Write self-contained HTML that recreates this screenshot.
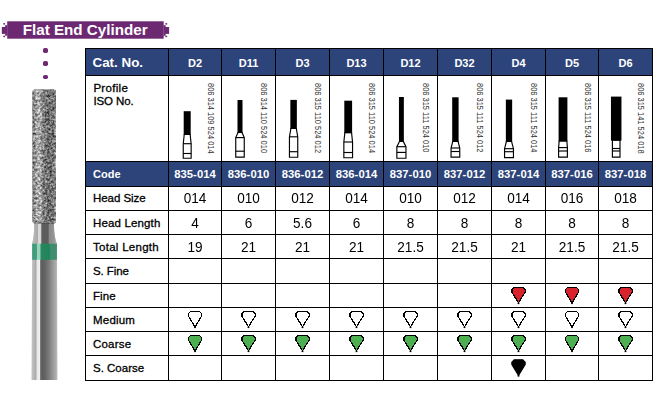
<!DOCTYPE html>
<html><head><meta charset="utf-8"><style>
*{margin:0;padding:0;box-sizing:border-box}
html,body{width:655px;height:401px;background:#fff;overflow:hidden}
body{position:relative;font-family:"Liberation Sans",sans-serif}
.a{position:absolute}
.hl{position:absolute;height:1px;background:#000}
.vl{position:absolute;width:1px;background:#000}
.t{position:absolute;white-space:nowrap;line-height:1}
.lb{font-weight:bold;font-size:11px;color:#000}
.md{font-size:11.5px;color:#000;-webkit-text-stroke:0.3px #000}
.hd{font-weight:bold;font-size:11px;color:#fff;text-align:center}
.cd{font-weight:bold;font-size:11.3px;color:#fff;text-align:center}
.vv{font-size:14.3px;color:#000;text-align:center;transform:scaleX(0.95)}
.iso{position:absolute;white-space:nowrap;font-size:8.3px;line-height:1;color:#333;transform-origin:0 0}
</style></head><body>

<svg class="a" style="left:0;top:0" width="180" height="45" viewBox="0 0 180 45">
<rect x="7.2" y="21.3" width="156.5" height="17.4" fill="#6d2872"/>
<rect x="1.8" y="27" width="5.6" height="6.9" fill="#6d2872"/>
<rect x="5.1" y="25.2" width="2.2" height="1.9" fill="#6d2872"/>
<rect x="5.1" y="33.8" width="2.2" height="1.9" fill="#6d2872"/>
<rect x="3.3" y="23.1" width="1.8" height="1.5" fill="#6d2872"/>
<rect x="3.3" y="35.7" width="1.8" height="1.5" fill="#6d2872"/>
<rect x="163.5" y="27" width="5.6" height="6.9" fill="#6d2872"/>
<rect x="163.5" y="25.2" width="2.2" height="1.9" fill="#6d2872"/>
<rect x="163.5" y="33.8" width="2.2" height="1.9" fill="#6d2872"/>
<rect x="165.4" y="23.1" width="1.8" height="1.5" fill="#6d2872"/>
<rect x="165.4" y="35.7" width="1.8" height="1.5" fill="#6d2872"/>
</svg>
<div class="t" style="left:22.7px;top:22.1px;font-size:15.2px;font-weight:bold;color:#fff">Flat End Cylinder</div>
<div class="a" style="left:43.2px;top:48.1px;width:4.8px;height:4.6px;border-radius:38%;background:#6d2872"></div>
<div class="a" style="left:43.2px;top:61.1px;width:4.8px;height:4.6px;border-radius:38%;background:#6d2872"></div>
<div class="a" style="left:43.2px;top:74.7px;width:4.8px;height:4.6px;border-radius:38%;background:#6d2872"></div>
<svg class="a" style="left:0;top:0" width="90" height="401" viewBox="0 0 90 401">
<defs>
<filter id="nz" x="0" y="0" width="100%" height="100%" color-interpolation-filters="sRGB">
<feTurbulence type="fractalNoise" baseFrequency="0.42" numOctaves="2" seed="11" result="n"/>
<feColorMatrix in="n" type="matrix" values="1 0 0 0 0  1 0 0 0 0  1 0 0 0 0  0 0 0 0 1" result="g"/>
<feGaussianBlur in="g" stdDeviation="0.3" result="gb"/>
<feComposite in="SourceGraphic" in2="gb" operator="arithmetic" k1="0" k2="1" k3="1.0" k4="-0.5" result="c"/>
<feComposite in="c" in2="SourceGraphic" operator="in"/>
</filter>
<linearGradient id="hg" x1="32.5" x2="56" y1="0" y2="0" gradientUnits="userSpaceOnUse">
<stop offset="0" stop-color="#7e7e7e"/><stop offset="0.1" stop-color="#8c8c8c"/><stop offset="0.2" stop-color="#a8a8a8"/>
<stop offset="0.33" stop-color="#acacac"/><stop offset="0.45" stop-color="#7a7a7a"/><stop offset="0.75" stop-color="#6a6a6a"/>
<stop offset="0.92" stop-color="#7a7a7a"/><stop offset="1" stop-color="#929292"/>
</linearGradient>
<linearGradient id="sg" x1="31.5" x2="57.5" y1="0" y2="0" gradientUnits="userSpaceOnUse">
<stop offset="0.0000" stop-color="#c4c4c4"/><stop offset="0.0577" stop-color="#bcbcbc"/><stop offset="0.1423" stop-color="#b2b2b2"/><stop offset="0.1731" stop-color="#9c9c9c"/><stop offset="0.2038" stop-color="#e6e6e6"/><stop offset="0.3115" stop-color="#f0f0f0"/><stop offset="0.3500" stop-color="#6c6c6c"/><stop offset="0.4038" stop-color="#5c5c5c"/><stop offset="0.5192" stop-color="#646464"/><stop offset="0.6731" stop-color="#7c7c7c"/><stop offset="0.8269" stop-color="#9a9a9a"/><stop offset="0.9423" stop-color="#adadad"/><stop offset="1.0000" stop-color="#c6c6c6"/>
</linearGradient>
<linearGradient id="ng" x1="32" x2="57" y1="0" y2="0" gradientUnits="userSpaceOnUse">
<stop offset="0.0000" stop-color="#c0c0c0"/><stop offset="0.1000" stop-color="#b4b4b4"/><stop offset="0.2240" stop-color="#aaaaaa"/><stop offset="0.2560" stop-color="#dcdcdc"/><stop offset="0.3520" stop-color="#d4d4d4"/><stop offset="0.3920" stop-color="#5e5e5e"/><stop offset="0.6400" stop-color="#5c5c5c"/><stop offset="0.7000" stop-color="#8a8a8a"/><stop offset="0.8800" stop-color="#969696"/><stop offset="0.9600" stop-color="#b0b0b0"/><stop offset="1.0000" stop-color="#c8c8c8"/>
</linearGradient>
<linearGradient id="gg" x1="32.2" x2="57" y1="0" y2="0" gradientUnits="userSpaceOnUse">
<stop offset="0.0000" stop-color="#3c9a78"/><stop offset="0.1895" stop-color="#44a07e"/><stop offset="0.2137" stop-color="#9ed4bf"/><stop offset="0.3226" stop-color="#98d0ba"/><stop offset="0.3468" stop-color="#26885f"/><stop offset="0.6935" stop-color="#20855a"/><stop offset="0.7177" stop-color="#3e8c6e"/><stop offset="1.0000" stop-color="#438e72"/>
</linearGradient>
</defs>
<path d="M34.2 222 L54 222 Q53.6 236 57 244 L57.5 380 L31.5 380 L32.2 244 Q34.6 234 34.2 222 Z" fill="url(#sg)"/>
<path d="M34.2 222 L54 222 Q53.6 236 57 244 L32.2 244 Q34.6 234 34.2 222 Z" fill="url(#ng)"/>
<rect x="32.5" y="89.5" width="23.5" height="134" rx="2" fill="url(#hg)" filter="url(#nz)"/>
<rect x="32.2" y="243.7" width="24.7" height="16.1" fill="url(#gg)"/>
</svg>

<div class="a" style="left:85px;top:48px;width:568px;height:27px;background:#2c447a"></div>
<div class="a" style="left:85px;top:161px;width:568px;height:25px;background:#2c447a"></div>
<div class="hl" style="left:85px;top:48px;width:568px"></div>
<div class="hl" style="left:85px;top:75px;width:568px"></div>
<div class="hl" style="left:85px;top:161px;width:568px"></div>
<div class="hl" style="left:85px;top:186px;width:568px"></div>
<div class="hl" style="left:85px;top:210px;width:568px"></div>
<div class="hl" style="left:85px;top:234px;width:568px"></div>
<div class="hl" style="left:85px;top:258px;width:568px"></div>
<div class="hl" style="left:85px;top:283px;width:568px"></div>
<div class="hl" style="left:85px;top:307px;width:568px"></div>
<div class="hl" style="left:85px;top:331px;width:568px"></div>
<div class="hl" style="left:85px;top:355px;width:568px"></div>
<div class="hl" style="left:85px;top:380px;width:568px"></div>
<div class="vl" style="left:85px;top:48px;height:333px"></div>
<div class="vl" style="left:168px;top:48px;height:333px"></div>
<div class="vl" style="left:221px;top:48px;height:333px"></div>
<div class="vl" style="left:275px;top:48px;height:333px"></div>
<div class="vl" style="left:329px;top:48px;height:333px"></div>
<div class="vl" style="left:383px;top:48px;height:333px"></div>
<div class="vl" style="left:437px;top:48px;height:333px"></div>
<div class="vl" style="left:491px;top:48px;height:333px"></div>
<div class="vl" style="left:545px;top:48px;height:333px"></div>
<div class="vl" style="left:598px;top:48px;height:333px"></div>
<div class="vl" style="left:652px;top:48px;height:333px"></div>
<div class="t" style="left:92.5px;top:55.6px;font-size:13.4px;font-weight:bold;color:#fff">Cat. No.</div>
<div class="t hd" style="left:169px;top:57.6px;width:52px">D2</div>
<div class="t hd" style="left:222px;top:57.6px;width:53px">D11</div>
<div class="t hd" style="left:276px;top:57.6px;width:53px">D3</div>
<div class="t hd" style="left:330px;top:57.6px;width:53px">D13</div>
<div class="t hd" style="left:384px;top:57.6px;width:53px">D12</div>
<div class="t hd" style="left:438px;top:57.6px;width:53px">D32</div>
<div class="t hd" style="left:492px;top:57.6px;width:53px">D4</div>
<div class="t hd" style="left:546px;top:57.6px;width:52px">D5</div>
<div class="t hd" style="left:599px;top:57.6px;width:53px">D6</div>
<div class="t md" style="left:93.4px;top:83.2px;letter-spacing:0.3px">Profile</div>
<div class="t md" style="left:93.4px;top:96.4px;letter-spacing:-0.1px">ISO No.</div>
<div class="t lb" style="left:93px;top:168.6px;color:#fff">Code</div>
<div class="t cd" style="left:169px;top:168.8px;width:52px">835-014</div>
<div class="t cd" style="left:222px;top:168.8px;width:53px">836-010</div>
<div class="t cd" style="left:276px;top:168.8px;width:53px">836-012</div>
<div class="t cd" style="left:330px;top:168.8px;width:53px">836-014</div>
<div class="t cd" style="left:384px;top:168.8px;width:53px">837-010</div>
<div class="t cd" style="left:438px;top:168.8px;width:53px">837-012</div>
<div class="t cd" style="left:492px;top:168.8px;width:53px">837-014</div>
<div class="t cd" style="left:546px;top:168.8px;width:52px">837-016</div>
<div class="t cd" style="left:599px;top:168.8px;width:53px">837-018</div>
<div class="t md" style="left:93px;top:192.6px;letter-spacing:-0.06px">Head Size</div>
<div class="t md" style="left:93px;top:217.6px;letter-spacing:0.15px">Head Length</div>
<div class="t md" style="left:93px;top:241.6px;letter-spacing:0.28px">Total Length</div>
<div class="t md" style="left:93px;top:265.6px;letter-spacing:-0.08px">S. Fine</div>
<div class="t md" style="left:93px;top:290.6px;letter-spacing:0.1px">Fine</div>
<div class="t md" style="left:93px;top:314.6px;letter-spacing:0.2px">Medium</div>
<div class="t md" style="left:93px;top:338.6px;letter-spacing:0.2px">Coarse</div>
<div class="t md" style="left:93px;top:362.6px;letter-spacing:0.0px">S. Coarse</div>
<div class="t vv" style="left:169px;top:190.6px;width:52px">014</div>
<div class="t vv" style="left:222px;top:190.6px;width:53px">010</div>
<div class="t vv" style="left:276px;top:190.6px;width:53px">012</div>
<div class="t vv" style="left:330px;top:190.6px;width:53px">014</div>
<div class="t vv" style="left:384px;top:190.6px;width:53px">010</div>
<div class="t vv" style="left:438px;top:190.6px;width:53px">012</div>
<div class="t vv" style="left:492px;top:190.6px;width:53px">014</div>
<div class="t vv" style="left:546px;top:190.6px;width:52px">016</div>
<div class="t vv" style="left:599px;top:190.6px;width:53px">018</div>
<div class="t vv" style="left:169px;top:215.6px;width:52px">4</div>
<div class="t vv" style="left:222px;top:215.6px;width:53px">6</div>
<div class="t vv" style="left:276px;top:215.6px;width:53px">5.6</div>
<div class="t vv" style="left:330px;top:215.6px;width:53px">6</div>
<div class="t vv" style="left:384px;top:215.6px;width:53px">8</div>
<div class="t vv" style="left:438px;top:215.6px;width:53px">8</div>
<div class="t vv" style="left:492px;top:215.6px;width:53px">8</div>
<div class="t vv" style="left:546px;top:215.6px;width:52px">8</div>
<div class="t vv" style="left:599px;top:215.6px;width:53px">8</div>
<div class="t vv" style="left:169px;top:239.6px;width:52px">19</div>
<div class="t vv" style="left:222px;top:239.6px;width:53px">21</div>
<div class="t vv" style="left:276px;top:239.6px;width:53px">21</div>
<div class="t vv" style="left:330px;top:239.6px;width:53px">21</div>
<div class="t vv" style="left:384px;top:239.6px;width:53px">21.5</div>
<div class="t vv" style="left:438px;top:239.6px;width:53px">21.5</div>
<div class="t vv" style="left:492px;top:239.6px;width:53px">21</div>
<div class="t vv" style="left:546px;top:239.6px;width:52px">21.5</div>
<div class="t vv" style="left:599px;top:239.6px;width:53px">21.5</div>
<div class="iso" style="left:214.5px;top:83px;transform:rotate(90deg) scaleX(0.9)">806 314 109 524 014</div>
<div class="iso" style="left:267.5px;top:83px;transform:rotate(90deg) scaleX(0.9)">806 314 110 524 010</div>
<div class="iso" style="left:321.5px;top:83px;transform:rotate(90deg) scaleX(0.9)">806 315 110 524 012</div>
<div class="iso" style="left:375.5px;top:83px;transform:rotate(90deg) scaleX(0.9)">806 315 110 524 014</div>
<div class="iso" style="left:429.5px;top:83px;transform:rotate(90deg) scaleX(0.9)">806 315 111 524 010</div>
<div class="iso" style="left:483.5px;top:83px;transform:rotate(90deg) scaleX(0.9)">806 315 111 524 012</div>
<div class="iso" style="left:537.5px;top:83px;transform:rotate(90deg) scaleX(0.9)">806 315 111 524 014</div>
<div class="iso" style="left:591.5px;top:83px;transform:rotate(90deg) scaleX(0.9)">806 315 111 524 016</div>
<div class="iso" style="left:645.3px;top:83px;transform:rotate(90deg) scaleX(0.9)">806 315 141 524 018</div>
<svg class="a" style="left:0;top:0" width="655" height="401" viewBox="0 0 655 401">
<path d="M184.25 134.50 L183.25 143.70 L183.25 158.25 L191.15 158.25 L191.15 143.70 L190.15 134.50 Z" stroke="#000" stroke-width="1.15" fill="#fff" stroke-linejoin="miter"/><line x1="183.25" x2="191.15" y1="143.70" y2="143.70" stroke="#000" stroke-width="1.15"/><line x1="183.25" x2="191.15" y1="153.50" y2="153.50" stroke="#000" stroke-width="1.15"/><rect x="183.70" y="111.20" width="7.00" height="23.80" fill="#000"/>
<path d="M238.05 132.40 L235.75 137.60 L235.75 157.15 L244.25 157.15 L244.25 137.60 L241.95 132.40 Z" stroke="#000" stroke-width="1.15" fill="#fff" stroke-linejoin="miter"/><line x1="235.75" x2="244.25" y1="137.60" y2="137.60" stroke="#000" stroke-width="1.15"/><line x1="235.75" x2="244.25" y1="151.20" y2="151.20" stroke="#000" stroke-width="1.15"/><rect x="237.50" y="100.00" width="5.00" height="32.90" fill="#000"/>
<path d="M290.90 128.50 L289.45 136.80 L289.45 157.25 L297.75 157.25 L297.75 136.80 L296.30 128.50 Z" stroke="#000" stroke-width="1.15" fill="#fff" stroke-linejoin="miter"/><line x1="289.45" x2="297.75" y1="136.80" y2="136.80" stroke="#000" stroke-width="1.15"/><line x1="289.45" x2="297.75" y1="151.70" y2="151.70" stroke="#000" stroke-width="1.15"/><rect x="290.35" y="99.90" width="6.50" height="29.10" fill="#000"/>
<path d="M344.85 132.60 L343.85 142.00 L343.85 157.75 L352.55 157.75 L352.55 142.00 L351.55 132.60 Z" stroke="#000" stroke-width="1.15" fill="#fff" stroke-linejoin="miter"/><line x1="343.85" x2="352.55" y1="142.00" y2="142.00" stroke="#000" stroke-width="1.15"/><line x1="343.85" x2="352.55" y1="152.50" y2="152.50" stroke="#000" stroke-width="1.15"/><rect x="344.30" y="100.70" width="7.80" height="32.40" fill="#000"/>
<path d="M399.50 141.40 L396.85 146.70 L396.85 158.25 L405.95 158.25 L405.95 146.70 L403.30 141.40 Z" stroke="#000" stroke-width="1.15" fill="#fff" stroke-linejoin="miter"/><line x1="396.85" x2="405.95" y1="146.70" y2="146.70" stroke="#000" stroke-width="1.15"/><line x1="396.85" x2="405.95" y1="152.40" y2="152.40" stroke="#000" stroke-width="1.15"/><rect x="398.95" y="97.00" width="4.90" height="44.90" fill="#000"/>
<path d="M452.75 141.40 L451.05 148.00 L451.05 157.05 L459.75 157.05 L459.75 148.00 L458.05 141.40 Z" stroke="#000" stroke-width="1.15" fill="#fff" stroke-linejoin="miter"/><line x1="451.05" x2="459.75" y1="148.00" y2="148.00" stroke="#000" stroke-width="1.15"/><line x1="451.05" x2="459.75" y1="151.50" y2="151.50" stroke="#000" stroke-width="1.15"/><rect x="452.20" y="97.30" width="6.40" height="44.60" fill="#000"/>
<path d="M506.40 141.50 L504.55 148.70 L504.55 157.55 L513.45 157.55 L513.45 148.70 L511.60 141.50 Z" stroke="#000" stroke-width="1.15" fill="#fff" stroke-linejoin="miter"/><line x1="504.55" x2="513.45" y1="148.70" y2="148.70" stroke="#000" stroke-width="1.15"/><line x1="504.55" x2="513.45" y1="151.70" y2="151.70" stroke="#000" stroke-width="1.15"/><rect x="505.85" y="99.60" width="6.30" height="42.40" fill="#000"/>
<path d="M559.15 141.00 L558.60 147.60 L558.60 157.05 L567.40 157.05 L567.40 147.60 L566.85 141.00 Z" stroke="#000" stroke-width="1.15" fill="#fff" stroke-linejoin="miter"/><line x1="558.60" x2="567.40" y1="147.60" y2="147.60" stroke="#000" stroke-width="1.15"/><line x1="558.60" x2="567.40" y1="151.00" y2="151.00" stroke="#000" stroke-width="1.15"/><rect x="558.60" y="97.30" width="8.80" height="44.20" fill="#000"/>
<path d="M612.40 140.10 L612.40 157.05 L620.00 157.05 L620.00 140.10 Z" stroke="#000" stroke-width="1.15" fill="#fff" stroke-linejoin="miter"/><line x1="612.40" x2="620.00" y1="148.50" y2="148.50" stroke="#000" stroke-width="1.15"/><line x1="612.40" x2="620.00" y1="151.00" y2="151.00" stroke="#000" stroke-width="1.15"/><rect x="610.95" y="96.60" width="10.50" height="44.00" fill="#000"/>
</svg>
<svg class="a" style="left:0;top:0" width="655" height="401" viewBox="0 0 655 401">
<polygon points="514.20,287.30 522.80,287.30 525.10,289.70 525.10,292.10 518.50,302.90 511.90,292.10 511.90,289.70" fill="#d8232d" stroke="#000" stroke-width="1.2" stroke-linejoin="miter" shape-rendering="crispEdges"/>
<rect x="517.60" y="302.50" width="1.8" height="1.6" fill="#000"/>
<polygon points="567.70,287.30 576.30,287.30 578.60,289.70 578.60,292.10 572.00,302.90 565.40,292.10 565.40,289.70" fill="#d8232d" stroke="#000" stroke-width="1.2" stroke-linejoin="miter" shape-rendering="crispEdges"/>
<rect x="571.10" y="302.50" width="1.8" height="1.6" fill="#000"/>
<polygon points="621.20,287.30 629.80,287.30 632.10,289.70 632.10,292.10 625.50,302.90 618.90,292.10 618.90,289.70" fill="#d8232d" stroke="#000" stroke-width="1.2" stroke-linejoin="miter" shape-rendering="crispEdges"/>
<rect x="624.60" y="302.50" width="1.8" height="1.6" fill="#000"/>
<polygon points="190.70,311.30 199.30,311.30 201.60,313.70 201.60,316.10 195.00,326.90 188.40,316.10 188.40,313.70" fill="#fff" stroke="#000" stroke-width="1.2" stroke-linejoin="miter" shape-rendering="crispEdges"/>
<rect x="194.10" y="326.50" width="1.8" height="1.6" fill="#000"/>
<polygon points="244.20,311.30 252.80,311.30 255.10,313.70 255.10,316.10 248.50,326.90 241.90,316.10 241.90,313.70" fill="#fff" stroke="#000" stroke-width="1.2" stroke-linejoin="miter" shape-rendering="crispEdges"/>
<rect x="247.60" y="326.50" width="1.8" height="1.6" fill="#000"/>
<polygon points="298.20,311.30 306.80,311.30 309.10,313.70 309.10,316.10 302.50,326.90 295.90,316.10 295.90,313.70" fill="#fff" stroke="#000" stroke-width="1.2" stroke-linejoin="miter" shape-rendering="crispEdges"/>
<rect x="301.60" y="326.50" width="1.8" height="1.6" fill="#000"/>
<polygon points="352.20,311.30 360.80,311.30 363.10,313.70 363.10,316.10 356.50,326.90 349.90,316.10 349.90,313.70" fill="#fff" stroke="#000" stroke-width="1.2" stroke-linejoin="miter" shape-rendering="crispEdges"/>
<rect x="355.60" y="326.50" width="1.8" height="1.6" fill="#000"/>
<polygon points="406.20,311.30 414.80,311.30 417.10,313.70 417.10,316.10 410.50,326.90 403.90,316.10 403.90,313.70" fill="#fff" stroke="#000" stroke-width="1.2" stroke-linejoin="miter" shape-rendering="crispEdges"/>
<rect x="409.60" y="326.50" width="1.8" height="1.6" fill="#000"/>
<polygon points="460.20,311.30 468.80,311.30 471.10,313.70 471.10,316.10 464.50,326.90 457.90,316.10 457.90,313.70" fill="#fff" stroke="#000" stroke-width="1.2" stroke-linejoin="miter" shape-rendering="crispEdges"/>
<rect x="463.60" y="326.50" width="1.8" height="1.6" fill="#000"/>
<polygon points="514.20,311.30 522.80,311.30 525.10,313.70 525.10,316.10 518.50,326.90 511.90,316.10 511.90,313.70" fill="#fff" stroke="#000" stroke-width="1.2" stroke-linejoin="miter" shape-rendering="crispEdges"/>
<rect x="517.60" y="326.50" width="1.8" height="1.6" fill="#000"/>
<polygon points="567.70,311.30 576.30,311.30 578.60,313.70 578.60,316.10 572.00,326.90 565.40,316.10 565.40,313.70" fill="#fff" stroke="#000" stroke-width="1.2" stroke-linejoin="miter" shape-rendering="crispEdges"/>
<rect x="571.10" y="326.50" width="1.8" height="1.6" fill="#000"/>
<polygon points="621.20,311.30 629.80,311.30 632.10,313.70 632.10,316.10 625.50,326.90 618.90,316.10 618.90,313.70" fill="#fff" stroke="#000" stroke-width="1.2" stroke-linejoin="miter" shape-rendering="crispEdges"/>
<rect x="624.60" y="326.50" width="1.8" height="1.6" fill="#000"/>
<polygon points="190.70,335.30 199.30,335.30 201.60,337.70 201.60,340.10 195.00,350.90 188.40,340.10 188.40,337.70" fill="#4caf50" stroke="#000" stroke-width="1.2" stroke-linejoin="miter" shape-rendering="crispEdges"/>
<rect x="194.10" y="350.50" width="1.8" height="1.6" fill="#000"/>
<polygon points="244.20,335.30 252.80,335.30 255.10,337.70 255.10,340.10 248.50,350.90 241.90,340.10 241.90,337.70" fill="#4caf50" stroke="#000" stroke-width="1.2" stroke-linejoin="miter" shape-rendering="crispEdges"/>
<rect x="247.60" y="350.50" width="1.8" height="1.6" fill="#000"/>
<polygon points="298.20,335.30 306.80,335.30 309.10,337.70 309.10,340.10 302.50,350.90 295.90,340.10 295.90,337.70" fill="#4caf50" stroke="#000" stroke-width="1.2" stroke-linejoin="miter" shape-rendering="crispEdges"/>
<rect x="301.60" y="350.50" width="1.8" height="1.6" fill="#000"/>
<polygon points="352.20,335.30 360.80,335.30 363.10,337.70 363.10,340.10 356.50,350.90 349.90,340.10 349.90,337.70" fill="#4caf50" stroke="#000" stroke-width="1.2" stroke-linejoin="miter" shape-rendering="crispEdges"/>
<rect x="355.60" y="350.50" width="1.8" height="1.6" fill="#000"/>
<polygon points="406.20,335.30 414.80,335.30 417.10,337.70 417.10,340.10 410.50,350.90 403.90,340.10 403.90,337.70" fill="#4caf50" stroke="#000" stroke-width="1.2" stroke-linejoin="miter" shape-rendering="crispEdges"/>
<rect x="409.60" y="350.50" width="1.8" height="1.6" fill="#000"/>
<polygon points="460.20,335.30 468.80,335.30 471.10,337.70 471.10,340.10 464.50,350.90 457.90,340.10 457.90,337.70" fill="#4caf50" stroke="#000" stroke-width="1.2" stroke-linejoin="miter" shape-rendering="crispEdges"/>
<rect x="463.60" y="350.50" width="1.8" height="1.6" fill="#000"/>
<polygon points="514.20,335.30 522.80,335.30 525.10,337.70 525.10,340.10 518.50,350.90 511.90,340.10 511.90,337.70" fill="#4caf50" stroke="#000" stroke-width="1.2" stroke-linejoin="miter" shape-rendering="crispEdges"/>
<rect x="517.60" y="350.50" width="1.8" height="1.6" fill="#000"/>
<polygon points="567.70,335.30 576.30,335.30 578.60,337.70 578.60,340.10 572.00,350.90 565.40,340.10 565.40,337.70" fill="#4caf50" stroke="#000" stroke-width="1.2" stroke-linejoin="miter" shape-rendering="crispEdges"/>
<rect x="571.10" y="350.50" width="1.8" height="1.6" fill="#000"/>
<polygon points="621.20,335.30 629.80,335.30 632.10,337.70 632.10,340.10 625.50,350.90 618.90,340.10 618.90,337.70" fill="#4caf50" stroke="#000" stroke-width="1.2" stroke-linejoin="miter" shape-rendering="crispEdges"/>
<rect x="624.60" y="350.50" width="1.8" height="1.6" fill="#000"/>
<polygon points="514.20,359.80 522.80,359.80 525.10,362.20 525.10,364.60 518.50,375.40 511.90,364.60 511.90,362.20" fill="#000" stroke="#000" stroke-width="1.2" stroke-linejoin="miter" shape-rendering="auto"/>
<rect x="517.60" y="375.00" width="1.8" height="1.6" fill="#000"/>
</svg>
</body></html>
